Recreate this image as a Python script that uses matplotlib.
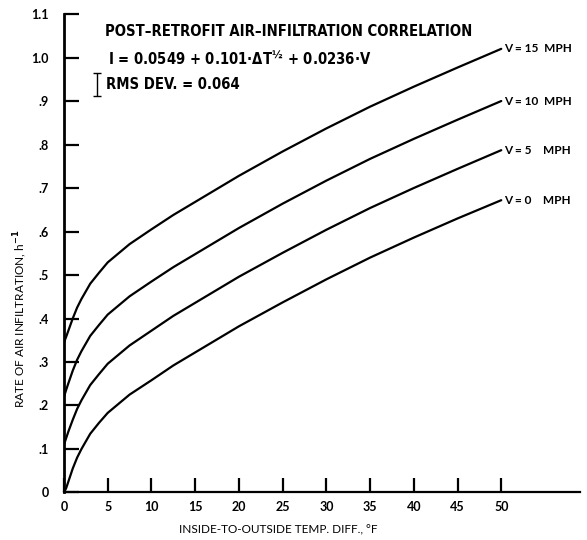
import matplotlib
matplotlib.use("Agg")
import matplotlib.pyplot as plt

# Temperature difference (deg F) at which the curves were sampled
delta_t = [0, 0.25, 0.5, 1, 1.5, 2, 3, 4, 5, 7.5, 10, 12.5, 15, 20, 25, 30, 35, 40, 45, 50]

# Air infiltration rate (1/h) for each wind speed
rate_v0 = [0.000, 0.010, 0.025, 0.055, 0.080, 0.100, 0.135, 0.160, 0.183, 0.225,
           0.258, 0.292, 0.322, 0.382, 0.437, 0.490, 0.540, 0.586, 0.630, 0.672]
rate_v5 = [0.110, 0.125, 0.140, 0.167, 0.192, 0.212, 0.247, 0.272, 0.296, 0.338,
           0.372, 0.406, 0.436, 0.496, 0.551, 0.604, 0.654, 0.700, 0.744, 0.787]
rate_v10 = [0.220, 0.236, 0.251, 0.280, 0.305, 0.325, 0.360, 0.385, 0.409, 0.451,
            0.485, 0.518, 0.548, 0.608, 0.664, 0.717, 0.767, 0.813, 0.857, 0.900]
rate_v15 = [0.345, 0.358, 0.372, 0.400, 0.425, 0.445, 0.480, 0.505, 0.529, 0.571,
            0.605, 0.638, 0.668, 0.728, 0.784, 0.837, 0.887, 0.933, 0.977, 1.020]

series = [rate_v15, rate_v10, rate_v5, rate_v0]
series_labels = ["V = 15  MPH", "V = 10  MPH", "V = 5    MPH", "V = 0    MPH"]

x_ticks = [0, 5, 10, 15, 20, 25, 30, 35, 40, 45, 50]
x_tick_labels = ["0", "5", "10", "15", "20", "25", "30", "35", "40", "45", "50"]
y_ticks = [0, 0.1, 0.2, 0.3, 0.4, 0.5, 0.6, 0.7, 0.8, 0.9, 1.0, 1.1]
y_tick_labels = ["0", ".1", ".2", ".3", ".4", ".5", ".6", ".7", ".8", ".9", "1.0", "1.1"]

rms_dev = 0.064

plt.rcParams["font.family"] = ["Lato", "DejaVu Sans"]
plt.rcParams["mathtext.default"] = "bf"

fig = plt.figure(figsize=(5.87, 5.40), dpi=100)
ax = fig.add_axes([0.109, 0.088, 0.879, 0.886])

for vals, lab in zip(series, series_labels):
    ax.plot(delta_t, vals, color="black", lw=1.6, solid_capstyle="round")
    ax.text(delta_t[-1] + 0.3, vals[-1], lab, ha="left", va="center",
            fontsize=8.5, fontweight="bold")

ax.set_xlim(0, 59)
ax.set_ylim(0, 1.1)
ax.spines["top"].set_visible(False)
ax.spines["right"].set_visible(False)
ax.spines["left"].set_linewidth(2.0)
ax.spines["bottom"].set_linewidth(1.6)

ax.set_xticks(x_ticks)
ax.set_xticklabels(x_tick_labels)
ax.set_yticks(y_ticks)
ax.set_yticklabels(y_tick_labels)
ax.tick_params(axis="x", direction="in", length=10, width=1.6, pad=6,
               labelsize=9)
ax.tick_params(axis="y", direction="in", length=11, width=1.6, pad=11,
               labelsize=9)
for lbl in ax.get_xticklabels() + ax.get_yticklabels():
    lbl.set_fontweight("bold")

title_font = dict(family=["DejaVu Sans"], fontstretch="condensed",
                  fontweight="bold", fontsize=10.6)
ax.text(4.7, 1.059, "POST\u2013RETROFIT AIR\u2013INFILTRATION CORRELATION",
        ha="left", va="center", **title_font)
ax.text(5.0, 0.997, "I = 0.0549 + 0.101\u00b7\u0394T$^{\u00bd}$ + 0.0236\u00b7V",
        ha="left", va="center", **title_font)
ax.text(4.8, 0.937, f"RMS DEV. = {rms_dev:.3f}", ha="left", va="center",
        **title_font)

# small error-bar glyph next to the RMS deviation
ax.errorbar([3.75], [0.938], yerr=[0.027], fmt="none", ecolor="black",
            elinewidth=1.0, capsize=3, capthick=1.0)

fig.text(0.034, 0.41, "RATE OF AIR INFILTRATION, h$^{-1}$", rotation=90,
         ha="center", va="center", fontsize=8.5)
fig.text(0.474, 0.018, "INSIDE-TO-OUTSIDE TEMP. DIFF., \u00b0F",
         ha="center", va="center", fontsize=8.5)

fig.savefig("out.png", dpi=100)
